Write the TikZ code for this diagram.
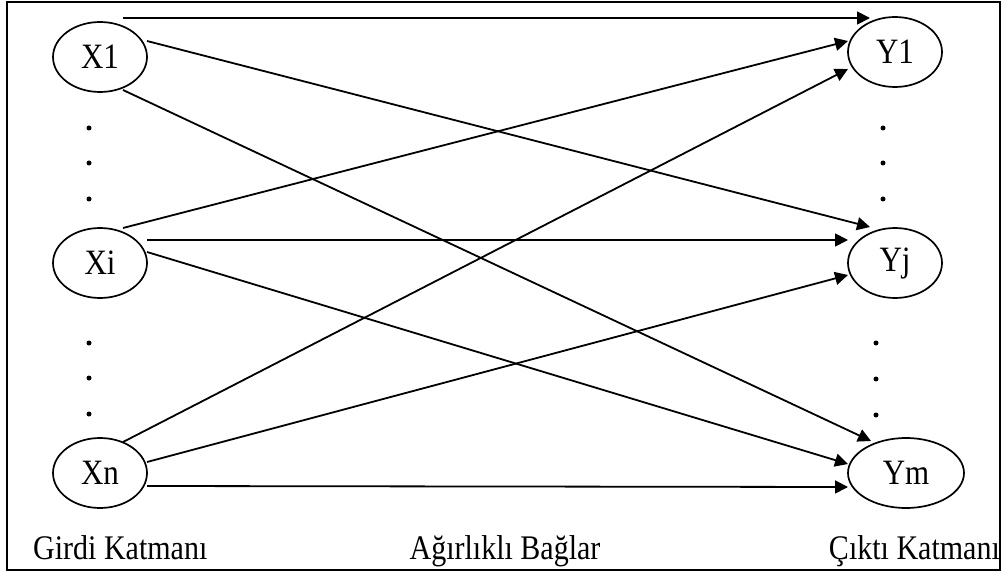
\documentclass[tikz,border=0pt]{standalone}
\usepackage{fontspec}
\setmainfont{Liberation Serif}
\usetikzlibrary{arrows.meta,calc,shapes.geometric}
\newcommand{\lbltext}[1]{\scalebox{1}[1.15]{#1}}
\begin{document}
\begin{tikzpicture}[x=1pt,y=-1pt,
  neuron/.style={draw,ellipse,line width=1.7pt,minimum width=94pt,minimum height=70pt,inner sep=0pt,
    font=\fontsize{31}{36}\selectfont},
  conn/.style={line width=1.8pt,-{Triangle[length=13pt,width=13pt]}},
  lbl/.style={font=\fontsize{30}{36}\selectfont,inner sep=0pt},
  dotmark/.style={fill=black,circle,inner sep=0pt,minimum size=5pt}]
\useasboundingbox (0,0) rectangle (1003,577);
\draw[line width=2.2pt] (7,2) rectangle (1000,570);
% nodes
\node[neuron] (X1) at (100,57) {\lbltext{X1}};
\node[neuron] (Xi) at (100,263) {\lbltext{Xi}};
\node[neuron] (Xn) at (100,473) {\lbltext{Xn}};
\node[neuron] (Y1) at (895,52) {\lbltext{Y1}};
\node[neuron] (Yj) at (895,263) {\lbltext{Yj}};
\node[neuron,minimum width=116pt] (Ym) at (906,473) {\lbltext{Ym}};
% dots
\foreach \yy [count=\k] in {128,163,199} {\node[dotmark] (dl\k) at (89,\yy) {};}
\foreach \yy [count=\k] in {343,378,414} {\node[dotmark] (dm\k) at (89,\yy) {};}
\foreach \yy [count=\k] in {128,163,199} {\node[dotmark] (dr\k) at (883,\yy) {};}
\foreach \yy [count=\k] in {343,379,415} {\node[dotmark] (ds\k) at (876,\yy) {};}
% connectors
\draw[conn] ($(X1)+(23,-39)$) -- ($(Y1)+(-25,-34)$);
\draw[conn] ($(X1)+(47,-16)$) -- ($(Yj)+(-25,-36)$);
\draw[conn] ($(X1)+(23,33)$) -- ($(Ym)+(-35,-32)$);
\draw[conn] ($(Xi)+(23,-35)$) -- ($(Y1)+(-47,-11)$);
\draw[conn] ($(Xi)+(47,-23)$) -- ($(Yj)+(-47,-23)$);
\draw[conn] ($(Xi)+(47,-11)$) -- ($(Ym)+(-58,-9)$);
\draw[conn] ($(Xn)+(23,-31)$) -- ($(Y1)+(-47,17)$);
\draw[conn] ($(Xn)+(47,-11)$) -- ($(Yj)+(-47,12)$);
\draw[conn] ($(Xn)+(47,13)$) -- ($(Ym)+(-58,14)$);
% labels
\node[lbl,anchor=base west] (lin) at (33,559) {\lbltext{Girdi Katmanı}};
\node[lbl,anchor=base] (lmid) at (505,559) {\lbltext{Ağırlıklı Bağlar}};
\node[lbl,anchor=base east] (lout) at (1000,559) {\lbltext{Çıktı Katmanı}};
\end{tikzpicture}
\end{document}
